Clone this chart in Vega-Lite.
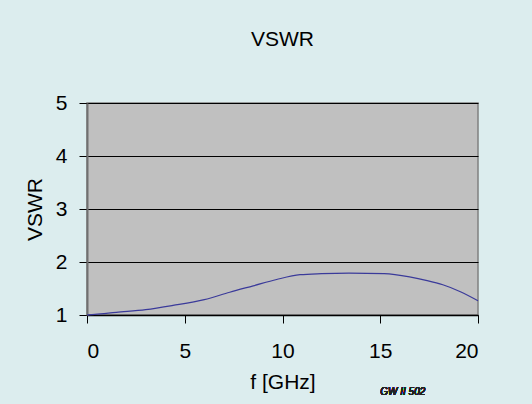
{
  "$schema": "https://vega.github.io/schema/vega-lite/v6.json",
  "width": 391,
  "height": 212,
  "autosize": {"type": "none"},
  "padding": {"left": 87, "top": 103, "right": 54, "bottom": 89},
  "background": "#dcedee",
  "config": {
    "font": "Liberation Sans",
    "view": {"fill": "#c0c0c0", "stroke": "#808080", "strokeWidth": 1.5}
  },
  "title": {
    "text": "VSWR",
    "fontSize": 21,
    "fontWeight": "normal",
    "color": "#000000",
    "anchor": "middle",
    "offset": 42,
    "font": "Liberation Sans"
  },
  "data": {
    "values": [
      {"f": 0.0, "v": 1.0},
      {"f": 0.4, "v": 1.01},
      {"f": 1.5, "v": 1.05},
      {"f": 3.0, "v": 1.1},
      {"f": 4.4, "v": 1.18},
      {"f": 6.0, "v": 1.29},
      {"f": 7.3, "v": 1.43},
      {"f": 8.5, "v": 1.55},
      {"f": 9.7, "v": 1.67},
      {"f": 10.9, "v": 1.76},
      {"f": 12.0, "v": 1.78},
      {"f": 13.4, "v": 1.79},
      {"f": 15.2, "v": 1.78},
      {"f": 16.5, "v": 1.72},
      {"f": 17.4, "v": 1.65},
      {"f": 18.2, "v": 1.57},
      {"f": 19.1, "v": 1.44},
      {"f": 20.0, "v": 1.27}
    ]
  },
  "layer": [
    {
      "mark": {"type": "line", "color": "#3a3a9a", "strokeWidth": 1.2, "interpolate": "monotone"},
      "encoding": {
        "x": {
          "field": "f",
          "type": "quantitative",
          "scale": {"domain": [0, 20], "nice": false},
          "axis": {
            "values": [0, 5, 10, 15, 20],
            "format": "d",
            "title": "f [GHz]",
            "titleFontSize": 21,
            "titleFontWeight": "normal",
            "titleColor": "#000000",
            "titlePadding": 10,
            "labelFontSize": 21,
            "labelColor": "#000000",
            "labelPadding": 17,
            "tickColor": "#000000",
            "tickSize": 8,
            "domainColor": "#000000",
            "domainWidth": 1.5,
            "grid": false
          }
        },
        "y": {
          "field": "v",
          "type": "quantitative",
          "scale": {"domain": [1, 5], "nice": false},
          "axis": {
            "values": [1, 2, 3, 4, 5],
            "format": "d",
            "title": "VSWR",
            "titleFontSize": 21,
            "titleFontWeight": "normal",
            "titleColor": "#000000",
            "titlePadding": 10,
            "labelFontSize": 21,
            "labelColor": "#000000",
            "labelPadding": 12,
            "tickColor": "#000000",
            "tickSize": 8,
            "domainColor": "#707070",
            "domainWidth": 2,
            "grid": true,
            "gridColor": "#000000",
            "gridWidth": 1.2,
            "gridOpacity": 1
          }
        }
      }
    },
    {
      "mark": {"type": "text", "text": "GW II  502", "fontSize": 10, "fontStyle": "italic", "color": "#222222", "clip": false, "align": "left"},
      "encoding": {
        "x": {"datum": 15.0},
        "y": {"datum": -0.45}
      }
    }
  ]
}
